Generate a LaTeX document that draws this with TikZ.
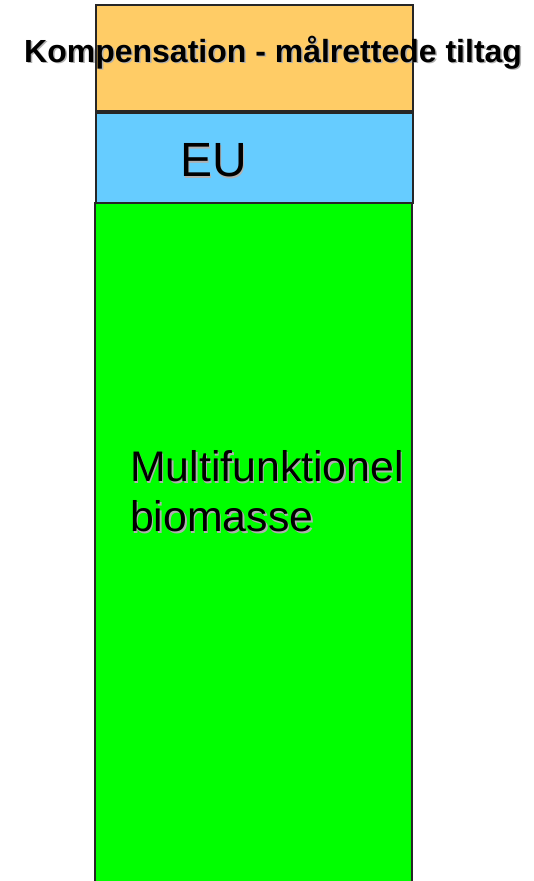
\documentclass[tikz,border=0pt]{standalone}
\usepackage{fontspec}
\setmainfont{Liberation Sans}
\definecolor{orangebox}{HTML}{FFCC66}
\definecolor{bluebox}{HTML}{66CCFF}
\definecolor{greenbox}{HTML}{00FF00}
\definecolor{shadowgray}{HTML}{B0B0B0}
\begin{document}
\begin{tikzpicture}[x=1pt,y=-1pt,
  layer/.style={draw=black!85,line width=1.5pt},
  lbl/.style={inner sep=0pt,anchor=base west,text=black},
  shd/.style={inner sep=0pt,anchor=base west,text=shadowgray}]
\useasboundingbox (0,0) rectangle (534,881);
\fill[white] (0,0) rectangle (534,881);
% boxes
\draw[layer,fill=greenbox] (95,203) rectangle (412,890);
\draw[layer,fill=orangebox] (96,5) rectangle (413,111);
\draw[layer,fill=bluebox] (96,113) rectangle (413,203);
% texts with shadow
\node[shd,font=\fontsize{32}{36}\selectfont\bfseries] (komps) at (25.5,63.7) {Kompensation - målrettede tiltag};
\node[lbl,font=\fontsize{32}{36}\selectfont\bfseries] (komp) at (24,62.2) {Kompensation - målrettede tiltag};
\node[shd,font=\fontsize{48}{52}\selectfont] (eus) at (181.5,178.2) {EU};
\node[lbl,font=\fontsize{48}{52}\selectfont] (eu) at (180,176.7) {EU};
\node[shd,font=\fontsize{42.8}{50}\selectfont] (m1s) at (131.5,483.2) {Multifunktionel};
\node[lbl,font=\fontsize{42.8}{50}\selectfont] (m1) at (130,481.7) {Multifunktionel};
\node[shd,font=\fontsize{42.8}{50}\selectfont] (m2s) at (131.5,533.2) {biomasse};
\node[lbl,font=\fontsize{42.8}{50}\selectfont] (m2) at (130,531.7) {biomasse};
\end{tikzpicture}
\end{document}
